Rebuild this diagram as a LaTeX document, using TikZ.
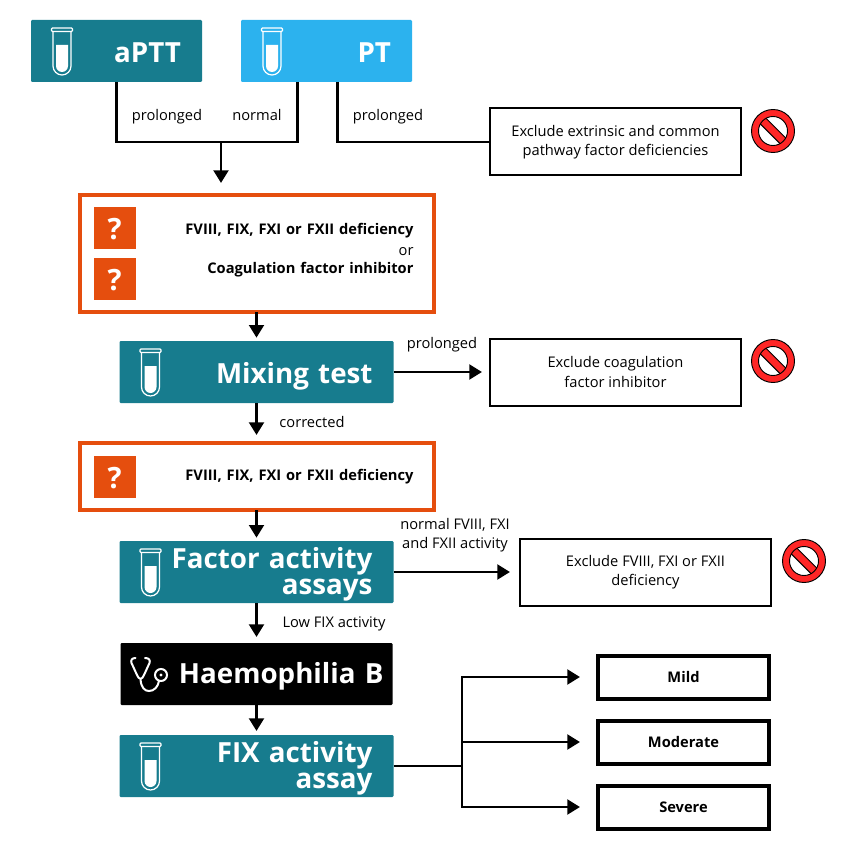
\documentclass[tikz,border=0pt]{standalone}
\usepackage{fontspec}
\setmainfont{Open Sans}
\usetikzlibrary{arrows.meta,positioning}

\definecolor{tealbox}{RGB}{23,124,142}
\definecolor{bluebox}{RGB}{44,178,238}
\definecolor{orangeline}{RGB}{229,78,14}
\definecolor{stopred}{RGB}{255,38,38}

\tikzset{
    every node/.style={outer sep=0pt},
    testbox/.style={fill=tealbox, text=white, rounded corners=0.8pt, inner xsep=15.75pt, inner ysep=0pt,
                    minimum height=46.5pt, align=right, font=\fontsize{20.8}{19.5}\selectfont\bfseries},
    querybox/.style={draw=orangeline, line width=3pt, inner xsep=15pt, inner ysep=0pt, align=right,
                    text width=235.5pt, font=\fontsize{11}{14}\selectfont\bfseries},
    qmark/.style={fill=orangeline, text=white, minimum size=31.5pt, inner sep=0pt, text height=18pt, font=\fontsize{22}{22}\selectfont\bfseries},
    excludebox/.style={draw, line width=1.5pt, minimum width=188.25pt, minimum height=50.25pt, inner sep=0pt,
                    align=center, font=\fontsize{11}{14.5}\selectfont},
    severitybox/.style={draw, line width=3pt, minimum width=128.25pt, minimum height=32.25pt, inner sep=0pt,
                    font=\fontsize{11}{14}\selectfont\bfseries},
    steplabel/.style={inner sep=0pt, align=center, font=\fontsize{11}{14}\selectfont},
    link/.style={line width=2.2pt},
    arrowlink/.style={link, -{Triangle[width=11pt,length=9.5pt]}},
    tube/.pic={
        \fill[white] (25,25) -- (37,25) -- (37,46) arc[start angle=0, end angle=180, radius=6] -- cycle;
        \draw[white, line width=0.9pt, rounded corners=0.8pt] (20.5,11.5) -- (20.5,8) -- (41.5,8) -- (41.5,11.5) -- cycle;
        \draw[white, line width=0.9pt] (22,11.5) -- (22,46) arc[start angle=180, end angle=0, radius=9] -- (40,11.5);
    },
    stopsign/.pic={
        \fill[white] (0,0) circle[radius=15];
        \draw[black, fill=stopred, line width=0.7pt, rotate=-45] (-18,-4) rectangle (18,4);
        \draw[black, fill=stopred, line width=0.7pt, even odd rule] (0,0) circle[radius=21.5] (0,0) circle[radius=14.5];
    },
}

\begin{document}
\begin{tikzpicture}[x=0.75pt, y=-0.75pt]
    \useasboundingbox (0,0) rectangle (851,852);

    % top row
    \node[testbox, text width=96.75pt, text height=17pt] (aptt) at (116.5,51) {aPTT};
    \node[testbox, text width=96.75pt, text height=17pt, fill=bluebox] (pt) at (326.5,51) {PT};
    \node[excludebox] (exclExt) at (615.5,142) {Exclude extrinsic and common\\pathway factor deficiencies};
    \pic at (aptt.north west) {tube};
    \pic at (pt.north west) {tube};
    \pic at (773,131) {stopsign};

    \node[steplabel, anchor=base] (lblApttProl) at (167,121) {prolonged};
    \node[steplabel, anchor=base] (lblPtNorm) at (257,121) {normal};
    \node[steplabel, anchor=base] (lblPtProl) at (388,121) {prolonged};

    % first question box
    \node[querybox, minimum height=87.75pt, text depth=37pt] (queryA) at (256.5,253.5) {FVIII, FIX, FXI or FXII deficiency\\[1.75pt]{\normalfont or}\\[-0.5pt]Coagulation factor inhibitor};
    \node[qmark] (qmarkA) at (114.5,228) {?};
    \node[qmark] (qmarkB) at (114.5,279) {?};

    % mixing test
    \node[testbox, text width=174pt, text height=17pt, text depth=0pt] (mixing) at (256.5,372) {Mixing test};
    \node[excludebox] (exclInh) at (615.5,372) {Exclude coagulation\\factor inhibitor};
    \pic at (mixing.north west) {tube};
    \pic at (773,361) {stopsign};
    \node[steplabel, anchor=base] (lblMixProl) at (442,348) {prolonged};
    \node[steplabel, anchor=base] (lblCorr) at (312,427) {corrected};

    % second question box
    \node[querybox, minimum height=50.25pt] (queryB) at (256.5,476.5) {FVIII, FIX, FXI or FXII deficiency};
    \node[qmark] (qmarkC) at (114.5,477) {?};

    % factor assays
    \node[testbox, text width=174pt, text depth=21.5pt] (factor) at (256.5,572) {Factor activity\\assays};
    \node[excludebox] (exclDef) at (645.5,572) {Exclude FVIII, FXI or FXII\\deficiency};
    \pic at (factor.north west) {tube};
    \pic at (804,561) {stopsign};
    \node[steplabel] (lblNormFac) at (455,535) {normal FVIII, FXI\\and FXII activity};
    \node[steplabel, anchor=base] (lblLow) at (334,627) {Low FIX activity};

    % diagnosis
    \node[testbox, text width=190.5pt, fill=black, inner xsep=6.75pt, text depth=1pt] (haem) at (256.5,674) {Haemophilia B};
    \draw[white, line width=1.5pt, line cap=round, line join=round]
        (135.5,658) .. controls (132,658) and (130.5,660) .. (131.5,663) -- (137,675)
        .. controls (139,680) and (142,680) .. (144,675) -- (149.5,663)
        .. controls (150.5,660) and (149,658) .. (145,658);
    \draw[white, line width=1.5pt, line cap=round]
        (140.5,679) .. controls (141,688) and (145,691) .. (149,691)
        .. controls (154,691) and (158,687) .. (159,681);
    \draw[white, line width=1.5pt] (161,675) circle[radius=6];
    \fill[white] (161,675) circle[radius=1.6];

    % severity
    \node[testbox, text width=174pt, text depth=21.5pt] (fix) at (256.5,766) {FIX activity\\assay};
    \pic at (fix.north west) {tube};
    \node[severitybox] (mild) at (683.5,677) {Mild};
    \node[severitybox] (moderate) at (683.5,742) {Moderate};
    \node[severitybox] (severe) at (683.5,807) {Severe};

    % connectors
    \coordinate (merge) at (221,142);
    \coordinate (branch) at (462,766);
    \draw[link] (aptt.south) |- (merge);
    \draw[link] ([xshift=-22pt]pt.south) |- (merge);
    \draw[arrowlink, shorten >=9pt] (merge) -- (merge |- queryA.north);
    \draw[link] ([xshift=8pt]pt.south) |- (exclExt.west);
    \draw[arrowlink, shorten >=2.5pt] (queryA.south) -- (mixing.north);
    \draw[arrowlink, shorten >=6pt] (mixing.east) -- (exclInh.west);
    \draw[arrowlink, shorten >=6pt] (mixing.south) -- (queryB.north);
    \draw[arrowlink, shorten >=2.5pt] (queryB.south) -- (factor.north);
    \draw[arrowlink, shorten >=7.5pt] (factor.east) -- (exclDef.west);
    \draw[arrowlink, shorten >=4.5pt] (factor.south) -- (haem.north);
    \draw[arrowlink, shorten >=3pt] (haem.south) -- (fix.north);
    \draw[link] (fix.east) -- (branch);
    \draw[arrowlink, shorten >=13.5pt] (branch) |- (mild.west);
    \draw[arrowlink, shorten >=13.5pt] (branch) |- (moderate.west);
    \draw[arrowlink, shorten >=13.5pt] (branch) |- (severe.west);
\end{tikzpicture}
\end{document}
